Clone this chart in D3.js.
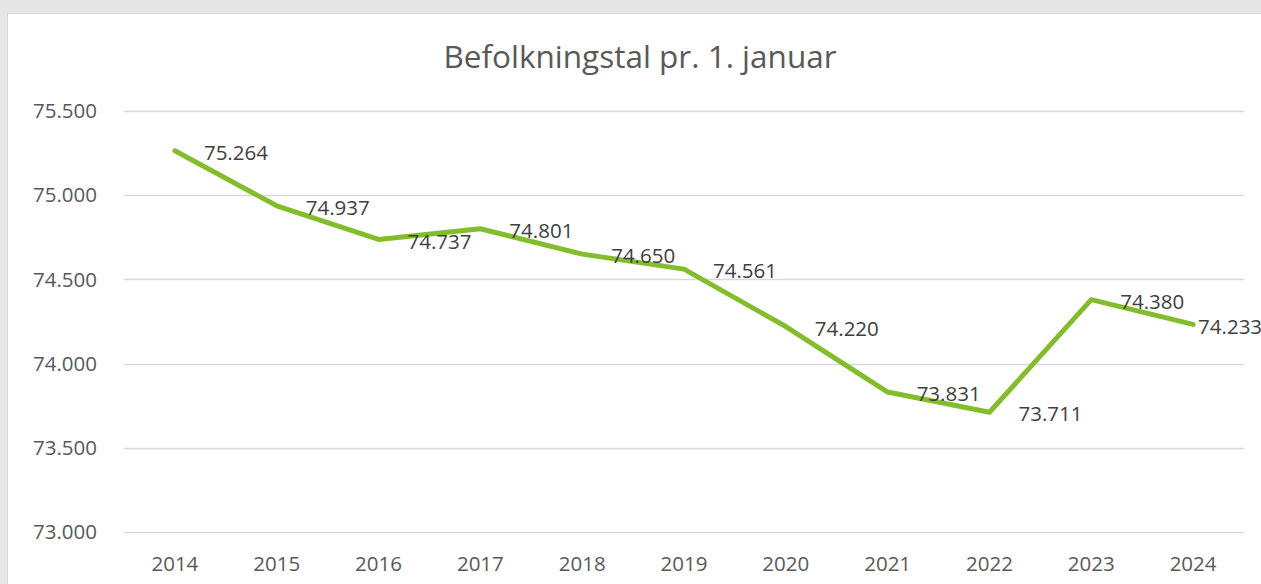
<!DOCTYPE html>
<html>
<head>
<meta charset="utf-8">
<script src="https://cdn.jsdelivr.net/npm/d3@7"></script>
<style>
  html, body { margin: 0; padding: 0; background: #e6e6e6; }
  svg { display: block; }
</style>
</head>
<body>
<div id="chart"></div>
<script>
// Population per 1 January
const years = ['2014', '2015', '2016', '2017', '2018', '2019', '2020', '2021', '2022', '2023', '2024'];
const population = [75264, 74937, 74737, 74801, 74650, 74561, 74220, 73831, 73711, 74380, 74233];
const yTicks = [73000, 73500, 74000, 74500, 75000, 75500];

const width = 1261;
const height = 584;
const fontFamily = "'Open Sans', 'Noto Sans', sans-serif";
const textColor = '#595959';

const fmt = v => d3.format(',')(v).replace(/,/g, '.');

const svg = d3.select('#chart').append('svg')
  .attr('width', width)
  .attr('height', height)
  .style('font-family', fontFamily);

// chart panel
svg.append('rect')
  .attr('x', 7.5)
  .attr('y', 13.5)
  .attr('width', width)
  .attr('height', height)
  .attr('fill', '#ffffff')
  .attr('stroke', '#d9d9d9');

const x = d3.scaleBand()
  .domain(years)
  .range([124, 1244]);

const y = d3.scaleLinear()
  .domain([73000, 75500])
  .range([532, 111]);

const cx = i => x(years[i]) + x.bandwidth() / 2;

// gridlines
svg.append('g')
  .selectAll('line')
  .data(yTicks)
  .join('line')
  .attr('x1', 124)
  .attr('x2', 1244)
  .attr('y1', d => Math.round(y(d)) + 0.5)
  .attr('y2', d => Math.round(y(d)) + 0.5)
  .attr('stroke', '#d9d9d9')
  .attr('stroke-width', 1.3);

// y tick labels
svg.append('g')
  .selectAll('text')
  .data(yTicks)
  .join('text')
  .attr('x', 97)
  .attr('y', d => y(d))
  .attr('dy', '0.35em')
  .attr('text-anchor', 'end')
  .attr('font-size', 20.5)
  .attr('fill', textColor)
  .text(fmt);

// x tick labels
svg.append('g')
  .selectAll('text')
  .data(years)
  .join('text')
  .attr('x', d => x(d) + x.bandwidth() / 2)
  .attr('y', 564)
  .attr('dy', '0.35em')
  .attr('text-anchor', 'middle')
  .attr('font-size', 20.5)
  .attr('fill', textColor)
  .text(d => d);

// title
svg.append('text')
  .attr('x', 640)
  .attr('y', 57)
  .attr('dy', '0.35em')
  .attr('text-anchor', 'middle')
  .attr('font-size', 31.5)
  .attr('fill', textColor)
  .text('Befolkningstal pr. 1. januar');

// line
const line = d3.line()
  .x((d, i) => cx(i))
  .y(d => y(d));

svg.append('path')
  .datum(population)
  .attr('d', line)
  .attr('fill', 'none')
  .attr('stroke', '#84bd2b')
  .attr('stroke-width', 5)
  .attr('stroke-linejoin', 'round')
  .attr('stroke-linecap', 'round');

// data labels, to the right of each point (last one pulled in like Excel does)
svg.append('g')
  .selectAll('text')
  .data(population)
  .join('text')
  .attr('x', (d, i) => cx(i) + (i === population.length - 1 ? 5 : 29))
  .attr('y', d => y(d) + 2)
  .attr('dy', '0.35em')
  .attr('font-size', 20.5)
  .attr('fill', '#404040')
  .text(fmt);
</script>
</body>
</html>
